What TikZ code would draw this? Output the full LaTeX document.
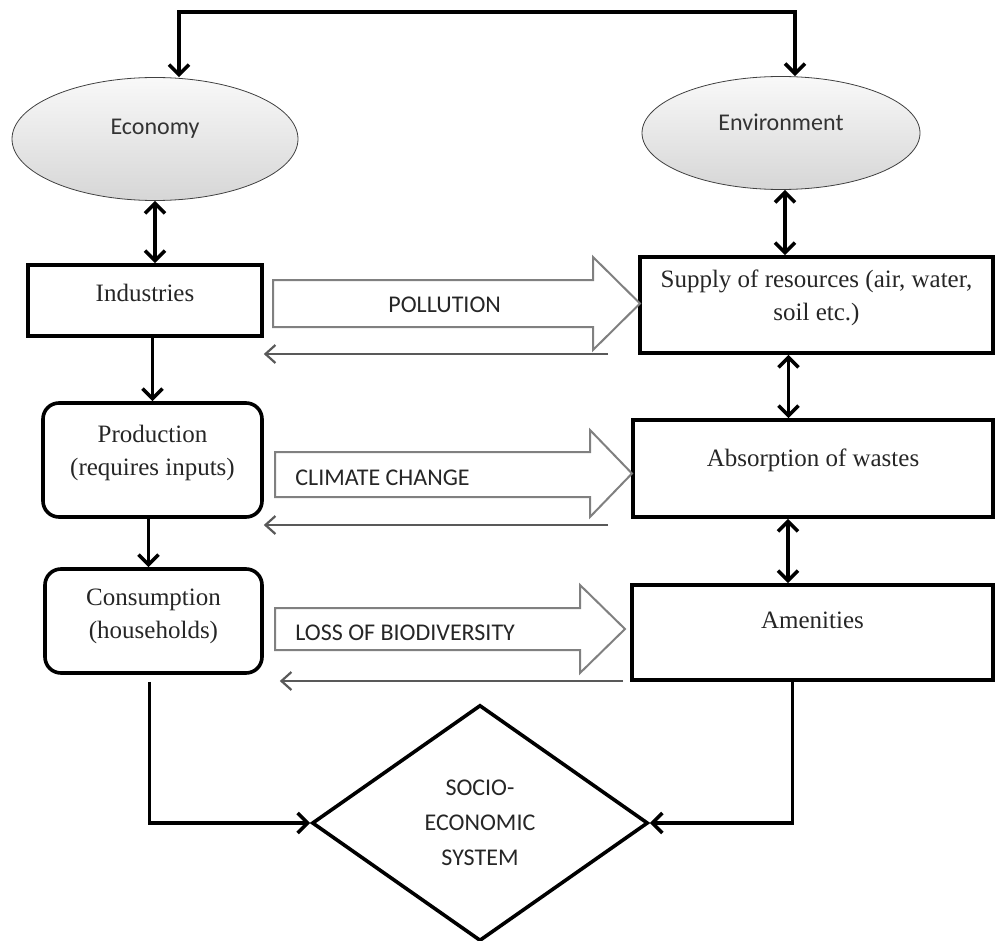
\documentclass[tikz,border=0pt]{standalone}
\usepackage{fontspec}
\setmainfont{Liberation Serif}
\setsansfont{Carlito}
\usetikzlibrary{arrows.meta,positioning,shapes.geometric,calc}

\begin{document}
\begin{tikzpicture}[x=0.5pt, y=-0.5pt,
  oval/.style={ellipse, draw=black!75, thin, top color=gray!5, bottom color=gray!32,
               inner sep=0pt, font=\sffamily\fontsize{12}{14}\selectfont, text=black!80},
  bbox/.style={draw, line width=1.8pt, align=center, inner sep=0pt,
               font=\fontsize{12.5}{16.5}\selectfont, text=black!85},
  rbox/.style={bbox, rounded corners=8pt},
  sys/.style={diamond, draw, line width=1.8pt, inner sep=0pt, align=center,
              minimum width=168pt, minimum height=118pt,
              font=\sffamily\fontsize{12}{17.5}\selectfont, text=black!85},
  blk/.style={draw=black!50, line width=1pt, fill=white},
  blbl/.style={anchor=west, inner sep=0pt, font=\sffamily\fontsize{12}{14}\selectfont, text=black!85},
  sgl/.style={-{Straight Barb[length=5pt,width=10pt]}, line width=1.8pt},
  dbl/.style={{Straight Barb[length=5pt,width=10pt]}-{Straight Barb[length=5pt,width=10pt]}, line width=1.8pt},
  ret/.style={-{Straight Barb[length=5pt,width=9pt]}, line width=1.1pt, black!65},
]
\useasboundingbox (0,0) rectangle (995,941);

% top level: economy and environment
\node[oval, minimum width=143pt, minimum height=61.5pt, text depth=12pt] (eco) at (155,139) {Economy};
\node[oval, minimum width=139pt, minimum height=56.5pt, text depth=11pt] (env) at (781,133) {Environment};
\coordinate (top) at (500,12);
\draw[dbl] ([xshift=12pt]eco.north) |- (top) -| ([xshift=7pt]env.north);

% economy side
\node[bbox, minimum width=117pt, minimum height=35.5pt, text depth=8pt] (ind) at (145,300.5) {Industries};
\node[rbox, minimum width=109.5pt, minimum height=57pt, text depth=10pt] (pro) at (152.5,460) {Production\\(requires inputs)};
\node[rbox, minimum width=108.5pt, minimum height=52pt, text depth=7pt] (con) at (153.5,621) {Consumption\\(households)};

% environment side
\node[bbox, minimum width=176.5pt, minimum height=48pt, text depth=9.5pt] (sup) at (816.5,305) {Supply of resources (air, water,\\soil etc.)};
\node[bbox, minimum width=180pt, minimum height=48.5pt, text depth=11pt] (abs) at (813,468.5) {Absorption of wastes};
\node[bbox, minimum width=180.5pt, minimum height=47.5pt, text depth=12pt] (ame) at (812.5,632.5) {Amenities};

\node[sys] (ses) at (480,823) {SOCIO-\\ECONOMIC\\SYSTEM};

% vertical links
\draw[dbl] (eco.south) -- (eco.south |- ind.north);
\draw[sgl] (ind.south -| pro.north) -- (pro.north);
\draw[sgl] ([xshift=-2pt]pro.south) -- ([xshift=-2pt]pro.south |- con.north);
\draw[dbl] ([xshift=2pt]env.south) -- ([xshift=2pt]env.south |- sup.north);
\draw[dbl] ([xshift=-14pt]sup.south) -- ([xshift=-14pt]sup.south |- abs.north);
\draw[dbl] ([xshift=-12.5pt]abs.south) -- ([xshift=-12.5pt]abs.south |- ame.north);
\draw[sgl] ([shift={(-2pt,-3.5pt)}]con.south) |- (ses.west);
\draw[sgl] ([xshift=-10pt]ame.south) |- (ses.east);

% impacts
\draw[blk] (273,280) -- (593,280) -- (593,257) -- (640,303.5) -- (593,350) -- (593,327) -- (273,327) -- cycle;
\draw[blk] (275,452) -- (590,452) -- (590,430) -- (632,473.5) -- (590,517) -- (590,497) -- (275,497) -- cycle;
\draw[blk] (275,608) -- (580,608) -- (580,585) -- (625,629) -- (580,673) -- (580,650) -- (275,650) -- cycle;
\node[blbl] (lpol) at (388,305) {POLLUTION};
\node[blbl] (lcli) at (295,478) {CLIMATE CHANGE};
\node[blbl] (lbio) at (295,633) {LOSS OF BIODIVERSITY};

% feedback
\coordinate (r1) at (608,354);
\coordinate (r2) at (608,525);
\coordinate (r3) at (623,681);
\draw[ret] (r1) -- (r1 -| ind.east);
\draw[ret] (r2) -- (r2 -| pro.east);
\draw[ret] (r3) -- ([xshift=8pt]r3 -| con.east);
\end{tikzpicture}
\end{document}
